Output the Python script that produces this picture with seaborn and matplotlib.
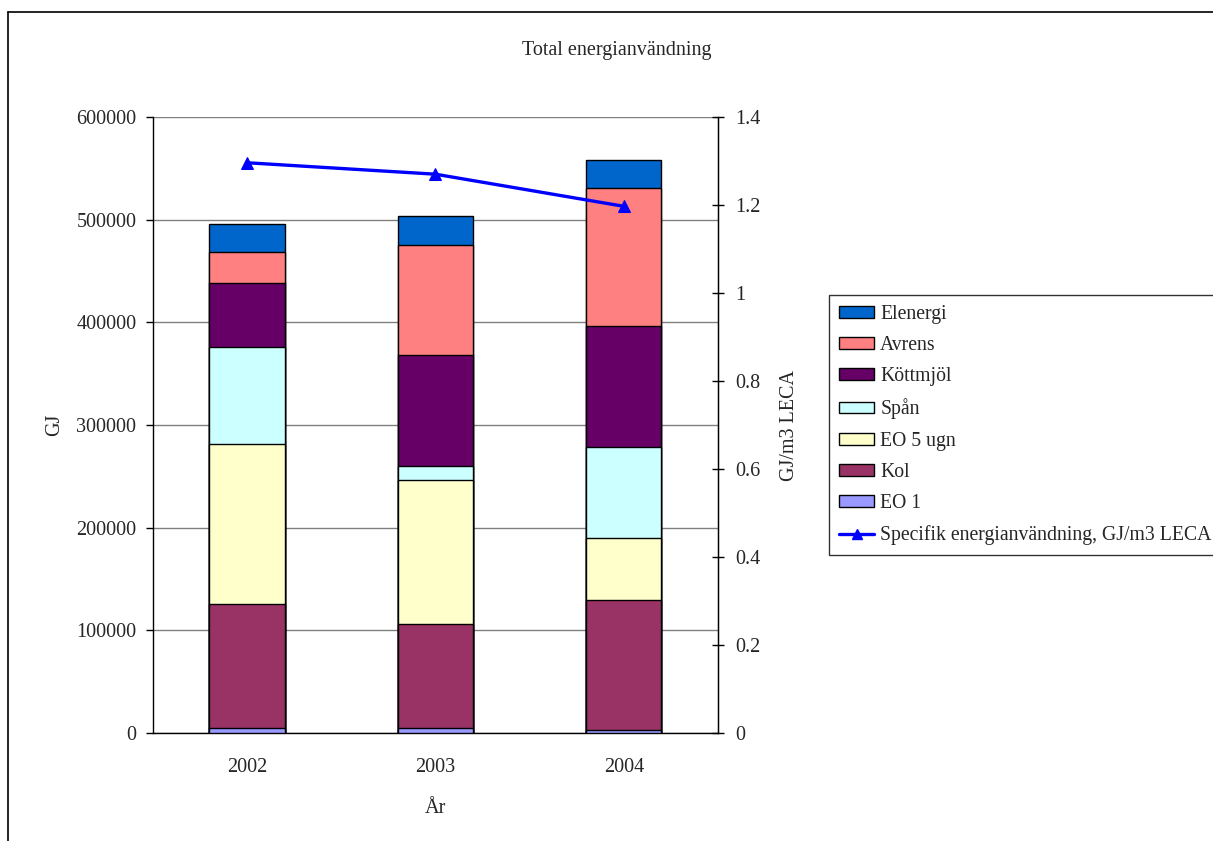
import numpy as np
import matplotlib
matplotlib.use("Agg")
import matplotlib.pyplot as plt
from matplotlib.patches import Patch
from matplotlib.lines import Line2D
import seaborn as sns

# Energy use per year (GJ), one list per energy source
years = ["2002", "2003", "2004"]
eo1 = [4500, 4500, 2900]
kol = [121100, 101300, 126300]
eo5_ugn = [155700, 141100, 61100]
span = [95100, 13100, 88400]
kottmjol = [62300, 107900, 117400]
avrens = [30000, 107300, 134900]
elenergi = [27400, 28300, 27400]

# Specific energy use, GJ/m3 LECA
specifik = [1.296, 1.270, 1.197]

series_names = ["EO 1", "Kol", "EO 5 ugn", "Spån", "Köttmjöl", "Avrens", "Elenergi"]
series_values = [eo1, kol, eo5_ugn, span, kottmjol, avrens, elenergi]
series_colors = ["#9999FF", "#993366", "#FFFFCC", "#CCFFFF", "#660066", "#FF8080", "#0066CC"]

left_ticks = [0, 100000, 200000, 300000, 400000, 500000, 600000]
right_ticks = [0, 0.2, 0.4, 0.6, 0.8, 1.0, 1.2, 1.4]
right_tick_labels = ["0", "0.2", "0.4", "0.6", "0.8", "1", "1.2", "1.4"]

sns.set_style("white")
plt.rcParams["font.family"] = ["Liberation Serif", "DejaVu Serif"]
FS = 14.5

W, H = 1213, 841
fig = plt.figure(figsize=(W / 100, H / 100), dpi=100)
ax = fig.add_axes([153 / W, 1 - 733 / H, (718 - 153) / W, (733 - 117) / H])

# Stacked bars: draw cumulative totals from the top segment down
cum = np.cumsum(np.array(series_values), axis=0)
for i in range(len(series_names) - 1, -1, -1):
    sns.barplot(x=years, y=cum[i], color=series_colors[i], width=0.4,
                edgecolor="black", linewidth=1.0, saturation=1, ax=ax, zorder=3)

ax.set_ylim(0, 600000)
ax.set_yticks(left_ticks)
ax.set_yticklabels([str(t) for t in left_ticks], fontsize=FS)
ax.yaxis.grid(True, color="#808080", linewidth=1.0)
ax.set_axisbelow(True)
ax.set_xlim(-0.5, 2.5)
ax.set_xticks([0, 1, 2])
ax.set_xticklabels(years, fontsize=FS)
ax.tick_params(axis="x", which="major", length=0, pad=18)
ax.set_xticks([-0.5, 0.5, 1.5, 2.5], minor=True)
ax.tick_params(axis="x", which="minor", length=6, width=1, color="black", direction="out")
ax.tick_params(axis="y", length=5, width=1, color="black", direction="out", pad=7, left=True)
ax.spines["top"].set_visible(False)
for side in ["left", "right", "bottom"]:
    ax.spines[side].set_color("black")
    ax.spines[side].set_linewidth(1.0)
ax.set_xlabel("År", fontsize=FS, labelpad=16)
ax.set_ylabel("GJ", fontsize=FS, labelpad=9)

# Specific energy use on the secondary axis
ax2 = ax.twinx()
sns.lineplot(x=[0, 1, 2], y=specifik, ax=ax2, color="#0000FF", linewidth=2.4,
             marker="^", markersize=8, markeredgecolor="#0000FF", zorder=5)
ax2.set_ylim(0, 1.4)
ax2.set_yticks(right_ticks)
ax2.set_yticklabels(right_tick_labels, fontsize=FS)
ax2.tick_params(axis="y", length=9, width=1, color="black", direction="inout", pad=8, right=True)
ax2.set_ylabel("GJ/m3 LECA", fontsize=FS, labelpad=14)
for side in ["top", "left", "bottom"]:
    ax2.spines[side].set_visible(False)
ax2.spines["right"].set_color("black")
ax2.set_xlim(-0.5, 2.5)

fig.text(617 / W, 1 - 50 / H, "Total energianvändning", ha="center", va="center", fontsize=FS)

# Legend
handles = [Patch(facecolor=series_colors[i], edgecolor="black", linewidth=1.0)
           for i in range(len(series_names) - 1, -1, -1)]
labels = series_names[::-1]
handles.append(Line2D([], [], color="#0000FF", linewidth=2.4, marker="^", markersize=7))
labels.append("Specifik energianvändning, GJ/m3 LECA")
leg = fig.legend(handles, labels, loc="upper left", bbox_to_anchor=(829 / W, 1 - 295 / H),
                 fontsize=14.2, frameon=True, fancybox=False, edgecolor="black",
                 handlelength=1.8, handleheight=0.55, handletextpad=0.3,
                 labelspacing=0.62, borderpad=0.5, borderaxespad=0)
leg.get_frame().set_linewidth(1.0)

# Outer chart border
fig.add_artist(Line2D([8 / W, 8 / W], [0, 1 - 12 / H], transform=fig.transFigure, color="black", linewidth=1.2))
fig.add_artist(Line2D([8 / W, 1], [1 - 12 / H, 1 - 12 / H], transform=fig.transFigure, color="black", linewidth=1.2))

fig.savefig("out.png", dpi=100)
